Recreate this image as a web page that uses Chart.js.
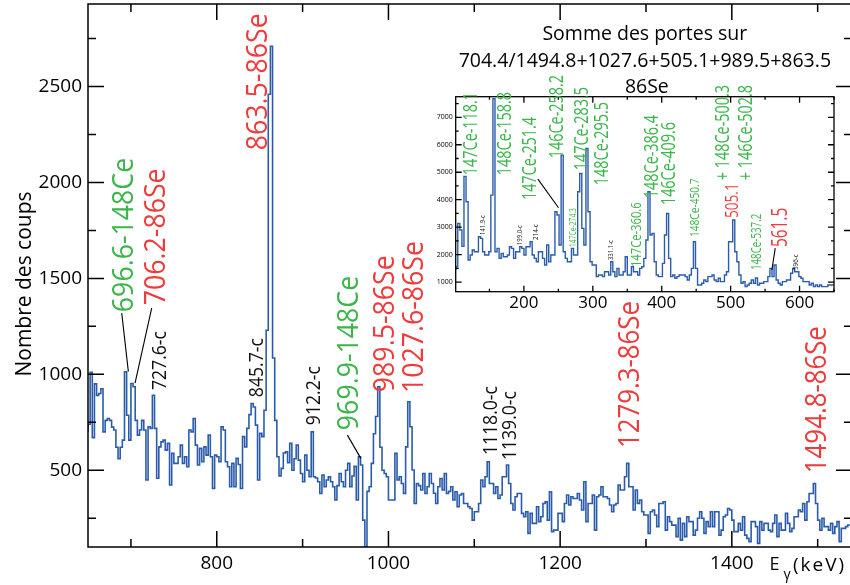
<!DOCTYPE html>
<html>
<head>
<meta charset="utf-8">
<script src="https://cdn.jsdelivr.net/npm/chart.js@4.4.1/dist/chart.umd.min.js"></script>
<style>
  html, body { margin: 0; padding: 0; overflow: hidden; background: #fff; width: 850px; height: 585px; }
  #wrap { position: relative; width: 850px; height: 585px; }
  #main { position: absolute; left: 0; top: 0; }
  #inset { position: absolute; left: 430px; top: 0; }
</style>
</head>
<body>
<div id="wrap">
  <canvas id="main" width="860" height="585"></canvas>
  <canvas id="inset" width="420" height="320"></canvas>
</div>
<script>
// ---- Main spectrum: 2.5 keV bins from 650 keV ----
const mainBinStart = 650;
const mainBinWidth = 2.5;
const mainCounts = [
  700, 740, 1010, 670, 950, 890, 900, 925, 700, 760,
  770, 760, 725, 710, 620, 560, 620, 657, 1013, 787,
  657, 952, 935, 760, 683, 710, 760, 710, 449, 727,
  718, 891, 718, 458, 622, 648, 657, 605, 640, 423,
  588, 536, 536, 570, 631, 536, 570, 518, 710, 700,
  770, 631, 527, 614, 544, 622, 579, 683, 570, 405,
  579, 570, 544, 727, 710, 544, 518, 414, 536, 414,
  562, 530, 405, 675, 622, 718, 790, 848, 830, 735,
  449, 692, 675, 813, 1230, 2460, 2710, 1085, 760, 570,
  470, 510, 590, 596, 540, 640, 500, 560, 631, 553,
  483, 440, 579, 500, 466, 700, 466, 460, 440, 379,
  475, 414, 449, 466, 440, 414, 345, 420, 483, 440,
  414, 500, 536, 414, 470, 520, 345, 570, 527, 240,
  60, 390, 414, 536, 690, 780, 935, 620, 500, 483,
  466, 345, 345, 345, 588, 449, 466, 431, 379, 622,
  857, 727, 501, 327, 431, 420, 397, 483, 379, 414,
  483, 431, 380, 327, 414, 457, 397, 483, 379, 390,
  414, 345, 388, 310, 371, 379, 327, 327, 310, 301,
  240, 284, 284, 327, 449, 414, 466, 544, 431, 431,
  379, 414, 353, 371, 466, 466, 527, 431, 327, 293,
  362, 379, 379, 275, 258, 284, 171, 275, 223, 223,
  310, 232, 258, 327, 335, 240, 388, 180, 188, 188,
  275, 275, 232, 327, 371, 319, 362, 353, 353, 379,
  345, 293, 440, 232, 327, 327, 371, 188, 362, 371,
  414, 362, 362, 353, 319, 284, 319, 327, 423, 397,
  397, 466, 536, 414, 414, 293, 397, 327, 345, 284,
  267, 267, 171, 284, 293, 267, 206, 327, 327, 336,
  188, 258, 232, 214, 214, 154, 249, 136, 223, 154,
  258, 232, 232, 162, 188, 250, 284, 250, 171, 232,
  206, 284, 206, 284, 284, 162, 188, 258, 267, 301,
  293, 240, 180, 180, 223, 188, 258, 162, 145, 128,
  232, 232, 206, 119, 232, 188, 223, 223, 188, 180,
  223, 267, 154, 223, 188, 188, 275, 223, 180, 197,
  258, 258, 293, 284, 327, 240, 336, 379, 379, 431,
  327, 240, 188, 249, 206, 206, 188, 223, 171, 206,
  232, 128, 197, 197, 206, 215
];
const mainXTicks = [700, 800, 900, 1000, 1100, 1200, 1300, 1400, 1500];
const mainXLabelled = [800, 1000, 1200, 1400];
const mainYTicks = [250, 500, 750, 1000, 1250, 1500, 1750, 2000, 2250, 2500, 2750];
const mainYLabelled = [500, 1000, 1500, 2000, 2500];

// ---- Inset: summed gates on 86Se, 3 keV bins from 101 keV ----
const insetBinStart = 101;
const insetBinWidth = 3;
const insetCounts = [
  1430, 1560, 3137, 2895, 2300, 4850, 3925, 1803, 1985, 2167,
  2107, 2107, 2652, 2592, 2107, 1985, 1985, 2107, 4167, 7680,
  2107, 2228, 1864, 2046, 1925, 1925, 1985, 2288, 2228, 1864,
  2107, 2107, 2288, 2228, 1985, 2288, 2288, 2470, 1985, 1864,
  1743, 2107, 2107, 1864, 1622, 2349, 1743, 1985, 1985, 3561,
  3440, 2349, 5621, 2107, 1864, 1743, 1743, 2228, 1985, 1985,
  4288, 4955, 2955, 2349, 5864, 3561, 1743, 1622, 1622, 1198,
  1258, 1258, 1198, 1379, 1379, 1258, 1743, 1379, 1198, 1501,
  1258, 1258, 1379, 1925, 1258, 1258, 1561, 1379, 1379, 1258,
  1501, 1561, 1864, 2531, 4288, 2713, 2773, 1743, 1258, 1198,
  1198, 1682, 2713, 3500, 1864, 1198, 1258, 1137, 1198, 1258,
  1258, 1258, 1198, 1077, 1258, 1501, 2470, 1501, 894, 894,
  955, 1077, 1016, 1198, 1198, 1258, 1077, 1016, 1137, 1016,
  1016, 1258, 1379, 2470, 2470, 3258, 2107, 1743, 1258, 955,
  1016, 834, 894, 955, 1077, 955, 1150, 894, 955, 955,
  1016, 1016, 1198, 1501, 1198, 1622, 1077, 955, 894, 1016,
  1016, 1077, 1077, 1320, 1501, 1379, 1379, 1198, 1137, 1016,
  1016, 1016, 894, 955, 834, 894, 834, 894, 834, 834,
  834, 894, 894
];
const insetXTicks = [150, 200, 250, 300, 350, 400, 450, 500, 550, 600, 650];
const insetXLabelled = [200, 300, 400, 500, 600];
const insetYTicks = [1000, 1500, 2000, 2500, 3000, 3500, 4000, 4500, 5000, 5500, 6000, 6500, 7000, 7500];
const insetYLabelled = [1000, 2000, 3000, 4000, 5000, 6000, 7000];

// Histogram outline points (step drawn by the line element)
function histogramPoints(start, width, counts) {
  const pts = counts.map((c, i) => ({ x: start + i * width, y: c }));
  pts.push({ x: start + counts.length * width, y: counts[counts.length - 1] });
  return pts;
}

const GREEN = '#3cb54b';
const RED = '#ef3b3b';
const BLACK = '#111';
const LINE = '#2b5cab';
const FONT = '"Open Sans"';

// Peak annotations: [text, energy, count at text foot, colour, font size, condense]
const mainNotes = [
  ['696.6-148Ce', 690.2, 1324, GREEN, 30, 0.89],
  ['706.2-86Se', 726.9, 1360, RED, 30, 0.89],
  ['727.6-c', 732.7, 918, BLACK, 20, 0.88],
  ['863.5-86Se', 845.8, 2168, RED, 30, 0.89],
  ['845.7-c', 845.8, 881, BLACK, 20, 0.88],
  ['912.2-c', 912.2, 735, BLACK, 20, 0.88],
  ['969.9-148Ce', 952.4, 709, GREEN, 30, 0.89],
  ['989.5-86Se', 993.8, 907, RED, 30, 0.89],
  ['1027.6-86Se', 1028.2, 902, RED, 30, 0.89],
  ['1118.0-c', 1118.5, 579, BLACK, 20, 0.88],
  ['1139.0-c', 1140.7, 553, BLACK, 20, 0.88],
  ['1279.3-86Se', 1279.4, 616, RED, 30, 0.86],
  ['1494.8-86Se', 1497.3, 485, RED, 30, 0.86]
];
const mainLeaders = [
  [689.3, 1319, 697.0, 1014],
  [724.2, 1345, 704.8, 954],
  [952.2, 683, 967.8, 562]
];
const insetNotes = [
  ['147Ce-118.1', 122.0, 4894, GREEN, 20, 0.72],
  ['148Ce-158.8', 171.4, 4894, GREEN, 20, 0.72],
  ['147Ce-251.4', 207.7, 3985, GREEN, 20, 0.72],
  ['146Ce-258.2', 246.8, 5512, GREEN, 20, 0.72],
  ['147Ce-283.5', 282.4, 5075, GREEN, 20, 0.72],
  ['148Ce-295.5', 311.4, 4530, GREEN, 20, 0.72],
  ['147Ce-274.3', 270.8, 2275, GREEN, 9, 0.75],
  ['147Ce-360.6', 363.0, 1548, GREEN, 14, 0.8],
  ['148Ce-386.4', 384.0, 4057, GREEN, 20, 0.72],
  ['146Ce-409.6', 408.7, 3803, GREEN, 20, 0.72],
  ['148Ce-450.7', 447.1, 2639, GREEN, 13, 0.78],
  ['505.1', 501.5, 3330, RED, 18, 0.76],
  ['+ 148Ce-500.3', 487.0, 4712, GREEN, 20, 0.72],
  ['+ 146Ce-502.8', 521.2, 4712, GREEN, 20, 0.72],
  ['148Ce-537.2', 535.7, 1439, GREEN, 15, 0.65],
  ['561.5', 569.7, 2275, RED, 22, 0.7],
  ['141.9-c', 140.2, 2712, BLACK, 7, 0.85],
  ['199.0-c', 193.9, 2348, BLACK, 7, 0.85],
  ['214-c', 217.1, 2530, BLACK, 7, 0.9],
  ['331.1-c', 325.9, 1803, BLACK, 7, 0.85],
  ['596-c', 593.7, 1439, BLACK, 7, 0.9]
];
const insetLeaders = [
  [220.3, 4748, 250.2, 3705],
  [564.7, 2239, 559.9, 1439]
];

// Vertical text reading bottom-to-top; (cx, by) = glyph centre line and foot
function upText(ctx, text, cx, by, size, cond, color) {
  ctx.save();
  ctx.translate(cx + 0.357 * size, by);
  ctx.rotate(-Math.PI / 2);
  ctx.scale(cond, 1);
  ctx.font = size + 'px ' + FONT;
  ctx.fillStyle = color;
  ctx.textAlign = 'left';
  ctx.textBaseline = 'alphabetic';
  ctx.fillText(text, 0, 0);
  ctx.restore();
}

function frameAndTicks(chart, xt, xm, yt, ym, majLen, minLen, lw) {
  const { ctx, chartArea: a, scales: { x, y } } = chart;
  ctx.save();
  ctx.strokeStyle = '#000';
  ctx.lineWidth = lw;
  ctx.beginPath();
  xt.forEach(v => {
    const p = x.getPixelForValue(v);
    const L = xm.includes(v) ? majLen : minLen;
    ctx.moveTo(p, a.bottom); ctx.lineTo(p, a.bottom - L);
    ctx.moveTo(p, a.top); ctx.lineTo(p, a.top + L);
  });
  yt.forEach(v => {
    const p = y.getPixelForValue(v);
    const L = ym.includes(v) ? majLen : minLen;
    ctx.moveTo(a.left, p); ctx.lineTo(a.left + L, p);
    ctx.moveTo(a.right, p); ctx.lineTo(a.right - L, p);
  });
  ctx.stroke();
  ctx.strokeRect(a.left, a.top, a.right - a.left, a.bottom - a.top);
  ctx.restore();
}

function notesAndLeaders(chart, notes, leaders, lw) {
  const { ctx, scales: { x, y } } = chart;
  ctx.save();
  ctx.strokeStyle = '#000';
  ctx.lineWidth = lw;
  leaders.forEach(([e1, c1, e2, c2]) => {
    ctx.beginPath();
    ctx.moveTo(x.getPixelForValue(e1), y.getPixelForValue(c1));
    ctx.lineTo(x.getPixelForValue(e2), y.getPixelForValue(c2));
    ctx.stroke();
  });
  ctx.restore();
  notes.forEach(([t, e, c, col, s, k]) => {
    upText(ctx, t, x.getPixelForValue(e), y.getPixelForValue(c), s, k, col);
  });
}

function zeroPadding(s) {
  s.paddingTop = 0; s.paddingBottom = 0; s.paddingLeft = 0; s.paddingRight = 0;
}

const mainDecor = {
  id: 'mainDecor',
  afterDraw(chart) {
    frameAndTicks(chart, mainXTicks, mainXLabelled, mainYTicks, mainYLabelled, 16, 8, 1.5);
    notesAndLeaders(chart, mainNotes, mainLeaders, 1.1);
    const ctx = chart.ctx;
    ctx.save();
    // y-axis title
    ctx.translate(30.5, 284);
    ctx.rotate(-Math.PI / 2);
    ctx.font = '21px ' + FONT;
    ctx.fillStyle = '#000';
    ctx.textAlign = 'center';
    ctx.textBaseline = 'alphabetic';
    ctx.fillText('Nombre des coups', 0, 0);
    ctx.restore();
    // x-axis title
    ctx.save();
    ctx.fillStyle = '#000';
    ctx.textBaseline = 'alphabetic';
    ctx.textAlign = 'left';
    ctx.font = '18px ' + FONT;
    ctx.fillText('E', 769.5, 570);
    ctx.font = '14px ' + FONT;
    ctx.fillText('\u03b3', 783.5, 579);
    ctx.font = '19px ' + FONT;
    ctx.letterSpacing = '2px';
    ctx.fillText('(keV)', 793, 571);
    ctx.restore();
  }
};

const insetDecor = {
  id: 'insetDecor',
  afterDraw(chart) {
    frameAndTicks(chart, insetXTicks, insetXLabelled, insetYTicks, insetYLabelled, 6, 3, 1.3);
    notesAndLeaders(chart, insetNotes, insetLeaders, 1.1);
    const { ctx, chartArea: a } = chart;
    const cx = (a.left + a.right) / 2;
    ctx.save();
    ctx.fillStyle = '#000';
    ctx.font = '19.5px ' + FONT;
    ctx.textAlign = 'center';
    ctx.textBaseline = 'alphabetic';
    ctx.fillText('Somme des portes sur', cx, 40);
    ctx.fillText('704.4/1494.8+1027.6+505.1+989.5+863.5', cx, 66.7);
    ctx.fillText('86Se', cx + 2, 92.7);
    ctx.restore();
  }
};

new Chart(document.getElementById('main'), {
  type: 'line',
  data: {
    datasets: [{
      data: histogramPoints(mainBinStart, mainBinWidth, mainCounts),
      stepped: 'after',
      borderColor: LINE,
      borderWidth: 1.6,
      pointRadius: 0,
      fill: false
    }]
  },
  options: {
    responsive: false,
    animation: false,
    devicePixelRatio: 1,
    layout: { padding: { top: 4, right: 8, left: 0, bottom: 0 } },
    plugins: { legend: { display: false }, tooltip: { enabled: false } },
    scales: {
      x: {
        type: 'linear', min: 650, max: 1540,
        grid: { display: false, drawTicks: false },
        border: { display: false },
        afterBuildTicks(s) { s.ticks = mainXTicks.map(v => ({ value: v })); },
        afterFit(s) { s.height = 38; zeroPadding(s); },
        ticks: {
          autoSkip: false, maxRotation: 0, padding: 5, color: '#000',
          font: { family: 'Open Sans', size: 19 },
          callback: v => (mainXLabelled.includes(v) ? String(v) : '')
        }
      },
      y: {
        type: 'linear', min: 100, max: 2930,
        grid: { display: false, drawTicks: false },
        border: { display: false },
        afterBuildTicks(s) { s.ticks = mainYTicks.map(v => ({ value: v })); },
        afterFit(s) { s.width = 88; zeroPadding(s); },
        ticks: {
          autoSkip: false, padding: 6, color: '#000',
          font: { family: 'Open Sans', size: 19 },
          callback: v => (mainYLabelled.includes(v) ? String(v) : '')
        }
      }
    }
  },
  plugins: [mainDecor]
});

new Chart(document.getElementById('inset'), {
  type: 'line',
  data: {
    datasets: [{
      data: histogramPoints(insetBinStart, insetBinWidth, insetCounts),
      stepped: 'after',
      borderColor: LINE,
      borderWidth: 1.4,
      pointRadius: 0,
      fill: false
    }]
  },
  options: {
    responsive: false,
    animation: false,
    devicePixelRatio: 1,
    layout: { padding: { top: 96.7, right: 16, left: 0, bottom: 0 } },
    plugins: { legend: { display: false }, tooltip: { enabled: false } },
    scales: {
      x: {
        type: 'linear', min: 101, max: 650,
        grid: { display: false, drawTicks: false },
        border: { display: false },
        afterBuildTicks(s) { s.ticks = insetXTicks.map(v => ({ value: v })); },
        afterFit(s) { s.height = 28.3; zeroPadding(s); },
        ticks: {
          autoSkip: false, maxRotation: 0, padding: 1, color: '#000',
          font: { family: 'Open Sans', size: 17 },
          callback: v => (insetXLabelled.includes(v) ? String(v) : '')
        }
      },
      y: {
        type: 'linear', min: 650, max: 7750,
        grid: { display: false, drawTicks: false },
        border: { display: false },
        afterBuildTicks(s) { s.ticks = insetYTicks.map(v => ({ value: v })); },
        afterFit(s) { s.width = 25.7; zeroPadding(s); },
        ticks: {
          autoSkip: false, padding: 3, color: '#000',
          font: { family: 'Open Sans', size: 7 },
          callback: v => (insetYLabelled.includes(v) ? String(v) : '')
        }
      }
    }
  },
  plugins: [insetDecor]
});
</script>
</body>
</html>
